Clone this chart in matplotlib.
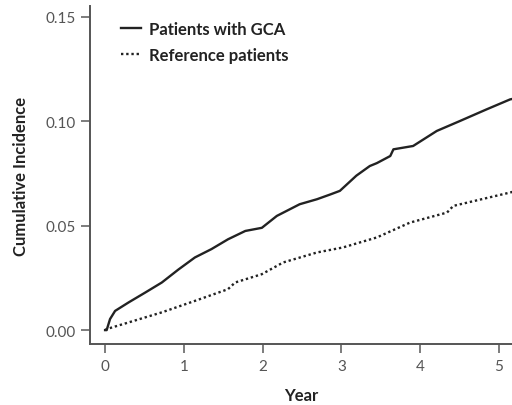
import matplotlib
matplotlib.use("Agg")
import matplotlib.pyplot as plt

# cumulative incidence
gca_year = [0.0, 0.02, 0.063, 0.127, 0.30, 0.51, 0.72, 0.93, 1.14, 1.35, 1.56, 1.78,
            1.99, 2.18, 2.47, 2.69, 2.86, 2.98, 3.19, 3.36, 3.45, 3.62, 3.66, 3.91,
            4.21, 4.50, 4.84, 5.14, 5.20]
gca_inc = [0.0, 0.0, 0.0053, 0.0092, 0.0133, 0.018, 0.0228, 0.029, 0.0348, 0.0388,
           0.0435, 0.0475, 0.049, 0.0547, 0.0603, 0.0627, 0.065, 0.0667, 0.074, 0.0786,
           0.080, 0.0834, 0.0866, 0.0882, 0.0954, 0.1001, 0.1057, 0.1105, 0.111]

ref_year = [0.0, 0.02, 0.30, 0.72, 1.14, 1.56, 1.65, 1.99, 2.26, 2.69, 3.02, 3.45,
            3.87, 4.34, 4.42, 5.14, 5.20]
ref_inc = [0.0, 0.0005, 0.0037, 0.0085, 0.014, 0.0196, 0.0228, 0.0268, 0.0324,
           0.0372, 0.0396, 0.0444, 0.0515, 0.0563, 0.0595, 0.0659, 0.0665]

plt.rcParams['font.family'] = ['Lato', 'DejaVu Sans']

fig = plt.figure(figsize=(5.12, 4.06), dpi=100)
ax = fig.add_axes([0.176, 0.150, 0.824, 0.833])

ax.plot(gca_year, gca_inc, color='#222222', lw=1.7, label='Patients with GCA')
ax.plot(ref_year, ref_inc, color='#222222', lw=1.7, ls=(0, (1, 1.2)), label='Reference patients')

ax.set_xlim(-0.19, 5.165)
ax.set_ylim(-0.0067, 0.1553)
ax.set_xticks([0, 1, 2, 3, 4, 5])
ax.set_yticks([0.0, 0.05, 0.10, 0.15])
ax.set_yticklabels(['0.00', '0.05', '0.10', '0.15'])

for s in ['top', 'right']:
    ax.spines[s].set_visible(False)
for s in ['left', 'bottom']:
    ax.spines[s].set_color('#555555')
    ax.spines[s].set_linewidth(1.4)
ax.tick_params(colors='#666666', labelcolor='#555555', labelsize=11, length=6.5, width=1.2, pad=4)

ax.set_xlabel('Year', fontsize=12, fontweight='bold', color='#222222', labelpad=10)
ax.set_ylabel('Cumulative Incidence', fontsize=12, fontweight='bold', color='#222222', labelpad=12)

leg = ax.legend(loc='upper left', bbox_to_anchor=(0.038, 1.0), frameon=False,
                handlelength=1.2, handletextpad=0.45, labelspacing=0.6,
                prop={'size': 12, 'weight': 'bold'})
for t in leg.get_texts():
    t.set_color('#222222')

fig.savefig('out.png', dpi=100)
